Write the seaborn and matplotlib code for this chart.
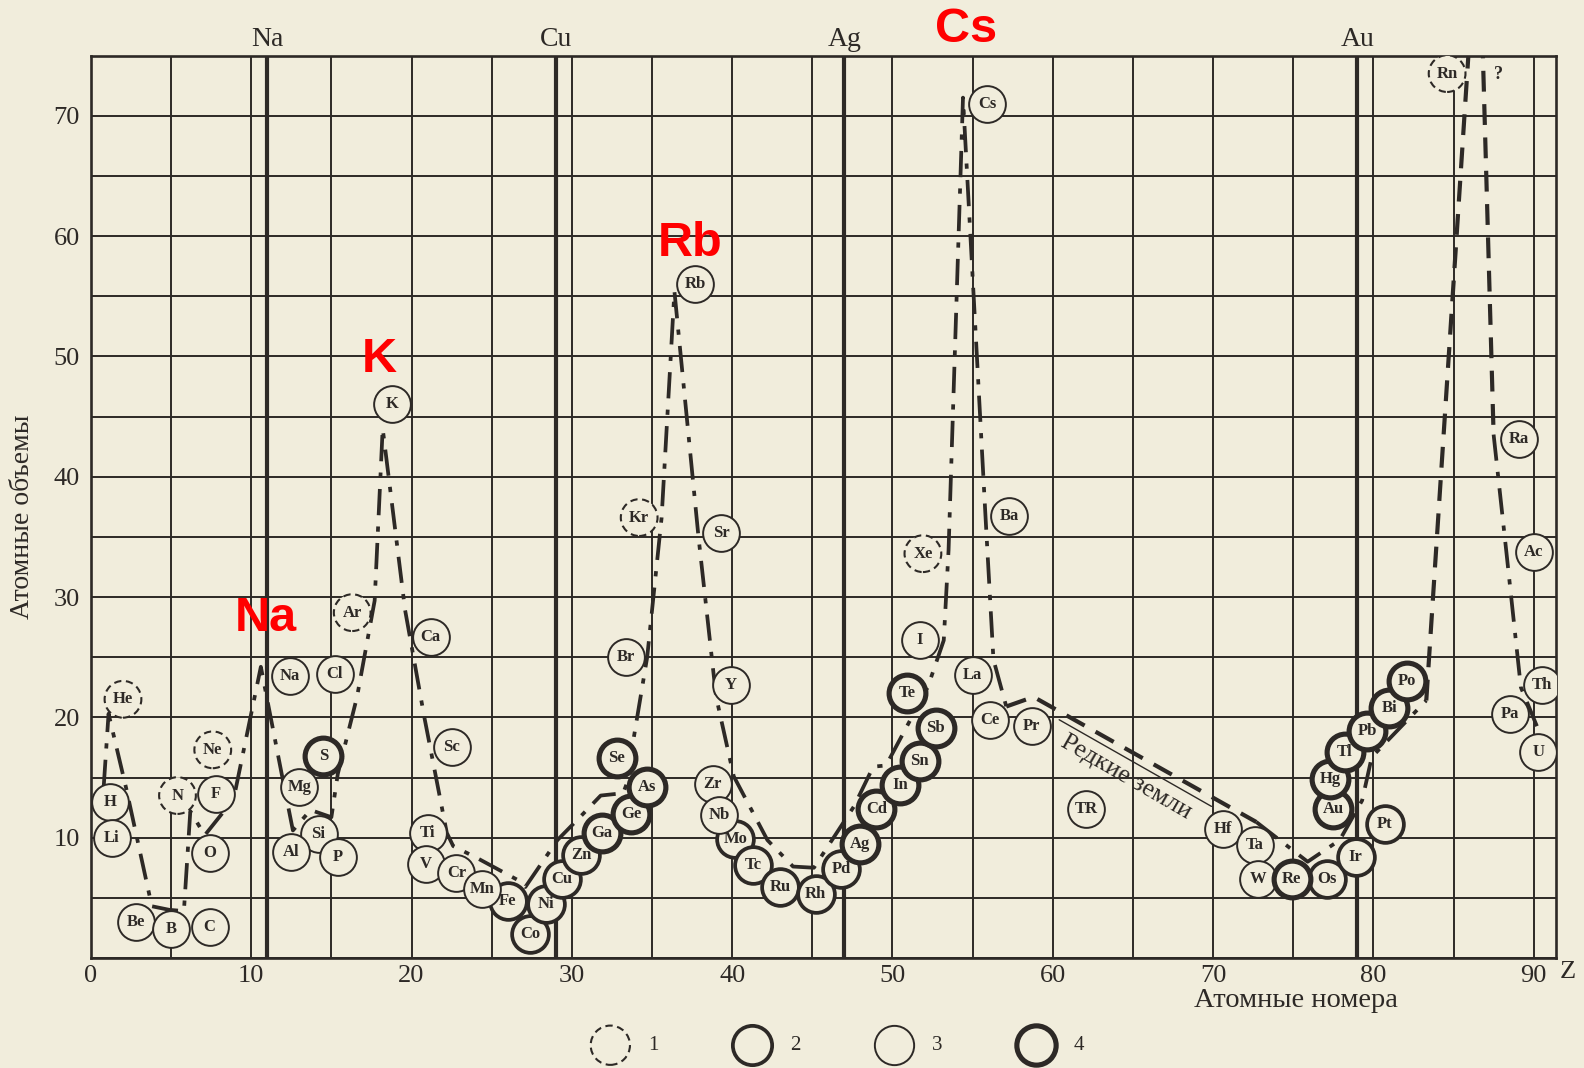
import numpy as np
import pandas as pd
import matplotlib
matplotlib.use("Agg")
import matplotlib.pyplot as plt
from matplotlib.ticker import MultipleLocator
import seaborn as sns

# ---------------- data ----------------
elements = ["He", "H", "Li", "Be", "B", "C", "N", "Ne", "F", "O",
            "Na", "Cl", "Ar", "S", "Mg", "Si", "Al", "P",
            "K", "Ca", "Sc", "Ti", "V", "Cr", "Mn", "Fe", "Co", "Ni", "Cu", "Zn",
            "Ga", "Ge", "As", "Se", "Br", "Kr",
            "Rb", "Sr", "Y", "Zr", "Nb", "Mo", "Tc", "Ru", "Rh", "Pd", "Ag", "Cd",
            "In", "Sn", "Sb", "Te", "I", "Xe",
            "Cs", "Ba", "La", "Ce", "Pr", "TR", "Hf", "Ta", "W", "Re", "Os", "Ir",
            "Pt", "Au", "Hg", "Tl", "Pb", "Bi", "Po", "Rn",
            "Ra", "Ac", "Th", "Pa", "U"]
circle_z = [2.0, 1.2, 1.3, 2.8, 5.0, 7.4, 5.4, 7.6, 7.8, 7.4,
            12.4, 15.2, 16.3, 14.5, 13.0, 14.2, 12.5, 15.4,
            18.8, 21.2, 22.5, 21.0, 20.9, 22.8, 24.4, 26.0, 27.4, 28.4, 29.4, 30.6,
            31.9, 33.7, 34.7, 32.8, 33.4, 34.2,
            37.7, 39.3, 39.9, 38.8, 39.2, 40.2, 41.3, 43.0, 45.2, 46.8, 48.0, 49.0,
            50.5, 51.7, 52.7, 50.9, 51.7, 51.9,
            55.9, 57.3, 55.0, 56.1, 58.7, 62.1, 70.6, 72.6, 72.8, 74.9, 77.1, 78.9,
            80.7, 77.5, 77.3, 78.2, 79.6, 81.0, 82.1, 84.6,
            89.1, 90.0, 90.5, 88.5, 90.3]
circle_v = [21.5, 13.0, 10.0, 3.0, 2.4, 2.6, 13.5, 17.3, 13.6, 8.7,
            23.4, 23.6, 28.7, 16.8, 14.2, 10.3, 8.8, 8.4,
            46.0, 26.7, 17.5, 10.4, 7.8, 7.1, 5.7, 4.7, 2.0, 4.5, 6.6, 8.6,
            10.4, 12.0, 14.2, 16.6, 25.0, 36.6,
            56.0, 35.3, 22.7, 14.5, 11.9, 9.9, 7.7, 5.9, 5.3, 7.4, 9.5, 12.4,
            14.4, 16.4, 19.1, 22.0, 26.4, 33.6,
            71.0, 36.7, 23.5, 19.8, 19.3, 12.4, 10.7, 9.4, 6.6, 6.6, 6.6, 8.4,
            11.1, 12.4, 14.9, 17.1, 18.9, 20.8, 23.0, 73.5,
            43.1, 33.7, 22.7, 20.3, 17.1]
# circle kind, as in the legend: 1 dashed, 2 medium, 3 thin, 4 thick
circle_kind = [1, 3, 3, 3, 3, 3, 1, 1, 3, 3,
               3, 3, 1, 4, 3, 3, 3, 3,
               3, 3, 3, 3, 3, 3, 3, 2, 2, 2, 2, 2,
               4, 4, 4, 4, 3, 1,
               3, 3, 3, 3, 3, 2, 2, 2, 2, 2, 4, 4,
               4, 4, 4, 4, 3, 1,
               3, 3, 3, 3, 3, 3, 3, 3, 3, 4, 2, 2,
               2, 4, 4, 4, 4, 4, 4, 1,
               3, 3, 3, 3, 3]

# atomic-volume curve (dash-dot parts)
curve1_z = [0.8, 1.1, 2.2, 3.8, 4.9, 5.8, 6.2, 7.1, 8.9, 10.6, 11.9, 12.6, 13.7,
            15.0, 15.4, 16.6, 17.7, 18.2, 19.6, 20.8, 22.2, 22.6, 24.1, 26.6,
            27.1, 29.1, 30.5, 31.8, 33.2, 33.6, 33.8, 34.7, 35.6, 36.4, 37.9,
            39.0, 40.1, 42.2, 43.8, 45.1, 47.6, 48.8, 49.6, 51.2, 52.2, 53.2,
            53.5, 54.4, 55.8, 56.3, 57.1]
curve1_v = [14.3, 20.3, 14.1, 4.3, 4.0, 3.9, 12.2, 10.2, 13.2, 24.2, 15.3, 10.6, 12.3,
            11.7, 15.3, 21.7, 29.7, 44.0, 28.9, 20.0, 10.4, 9.3, 8.3, 6.5,
            5.9, 9.8, 11.7, 13.5, 13.7, 15.1, 17.8, 25.0, 36.6, 55.4, 35.0,
            21.7, 15.1, 9.8, 7.6, 7.5, 12.6, 15.9, 16.0, 20.0, 22.5, 26.4,
            33.9, 71.5, 36.8, 24.8, 20.9]
rare_z = [57.1, 58.8, 72.7]
rare_v = [20.9, 21.7, 11.3]
curve2_z = [72.7, 75.9, 77.9, 79.3, 79.9, 83.3]
curve2_v = [11.3, 8.0, 9.8, 13.1, 16.7, 21.4]
rn_up_z = [83.3, 86.0]
rn_up_v = [21.4, 76.5]
rn_down_z = [86.8, 87.5]
rn_down_v = [76.5, 43.5]
curve3_z = [87.5, 88.3, 89.2, 90.5]
curve3_v = [43.5, 33.7, 22.5, 18.3]
bracket_z = [60.4, 69.9]
bracket_v = [19.8, 12.6]

group_z = [11, 29, 47, 79]
group_labels = ["Na", "Cu", "Ag", "Au"]

red_labels = ["Na", "K", "Rb", "Cs"]
red_z = [10.9, 18.0, 37.4, 54.6]
red_v = [28.2, 49.7, 59.4, 77.2]

x_ticks = [0, 10, 20, 30, 40, 50, 60, 70, 80, 90]
y_ticks = [10, 20, 30, 40, 50, 60, 70]
legend_labels = ["1", "2", "3", "4"]

# ---------------- styling ----------------
PAPER = "#f1eddc"
INK = "#2d2926"
SERIF = ["Liberation Serif", "DejaVu Serif"]

sns.set_theme(style="white")
plt.rcParams["font.family"] = SERIF

fig = plt.figure(figsize=(15.84, 10.68), dpi=100, facecolor=PAPER)
ax = fig.add_axes([0.0574, 0.103, 0.925, 0.845])
ax.set_facecolor(PAPER)
ax.set_xlim(0, 91.4)
ax.set_ylim(0, 75)

ax.xaxis.set_major_locator(MultipleLocator(10))
ax.xaxis.set_minor_locator(MultipleLocator(5))
ax.set_xticks(x_ticks)
ax.set_xticklabels([str(t) for t in x_ticks], fontsize=19, color=INK)
ax.set_yticks(y_ticks)
ax.set_yticklabels([str(t) for t in y_ticks], fontsize=19, color=INK)
ax.yaxis.set_minor_locator(MultipleLocator(5))
ax.tick_params(which="both", length=0)
ax.tick_params(axis="x", pad=5)
ax.tick_params(axis="y", pad=8)
ax.grid(True, which="both", color=INK, lw=1.4, zorder=0.5)
ax.set_axisbelow(True)
for sp in ax.spines.values():
    sp.set_color(INK)
    sp.set_linewidth(1.9)
    sp.set_visible(True)

# group (period boundary) lines
for gz, gl in zip(group_z, group_labels):
    ax.axvline(gz, color=INK, lw=3.0, zorder=1)
    ax.text(gz, 76.3, gl, ha="center", va="center", fontsize=20, color=INK,
            clip_on=False)

dashdot = (0, (7, 3.0, 1.4, 3.0))
dashed = (0, (5, 3))
lkw = dict(sort=False, estimator=None, color=INK, legend=False, ax=ax)
sns.lineplot(x=curve1_z, y=curve1_v, lw=2.7, linestyle=dashdot, zorder=2, **lkw)
sns.lineplot(x=curve2_z, y=curve2_v, lw=2.7, linestyle=dashdot, zorder=2, **lkw)
sns.lineplot(x=curve3_z, y=curve3_v, lw=2.7, linestyle=dashdot, zorder=2, **lkw)
sns.lineplot(x=rare_z, y=rare_v, lw=3.0, linestyle=dashed, zorder=2, **lkw)
sns.lineplot(x=rn_up_z, y=rn_up_v, lw=3.0, linestyle=dashed, zorder=2, **lkw)
sns.lineplot(x=rn_down_z, y=rn_down_v, lw=3.0, linestyle=dashed, zorder=2, **lkw)
sns.lineplot(x=bracket_z, y=bracket_v, lw=1.0, linestyle="-", zorder=2, **lkw)

ax.text(64.6, 15.0, "Редкие земли", rotation=-30, rotation_mode="anchor",
        ha="center", va="center", fontsize=18.5, color=INK, zorder=4)

kind_style = {
    1: dict(linewidth=1.5, linestyle=(0, (3.5, 2.2))),
    2: dict(linewidth=2.7, linestyle="-"),
    3: dict(linewidth=1.4, linestyle="-"),
    4: dict(linewidth=3.7, linestyle="-"),
}
cdf = pd.DataFrame({"el": elements, "z": circle_z, "v": circle_v, "kind": circle_kind})
for k, sub in cdf.groupby("kind"):
    sns.scatterplot(data=sub, x="z", y="v", s=700, color=PAPER, edgecolor=INK,
                    zorder=3, legend=False, ax=ax, **kind_style[k])
for el, z, v in zip(elements, circle_z, circle_v):
    ax.text(z, v, el, ha="center", va="center", fontsize=12, fontweight="bold",
            color=INK, zorder=5)

ax.text(87.8, 73.4, "?", ha="center", va="center", fontsize=13, fontweight="bold",
        color=INK, zorder=5)

# red annotations
for lab, z, v in zip(red_labels, red_z, red_v):
    ax.text(z, v, lab, ha="center", va="center", fontsize=35, fontweight="bold",
            color="#ff0000", family=["Liberation Sans", "DejaVu Sans"],
            zorder=6, clip_on=False)

# axis titles
ax.text(92.1, -1.15, "Z", ha="center", va="center", fontsize=19, color=INK,
        clip_on=False)
fig.text(0.818, 0.063, "Атомные номера", ha="center", va="center",
         fontsize=20.5, color=INK)
fig.text(0.014, 0.516, "Атомные объемы", ha="center", va="center",
         fontsize=20, color=INK, rotation=90)
ax.set_xlabel("")
ax.set_ylabel("")

# legend of circle kinds
leg_kinds = [1, 2, 3, 4]
for i, (lk, ll) in enumerate(zip(leg_kinds, legend_labels)):
    lx = 32.4 + 8.85 * i
    sns.scatterplot(x=[lx], y=[-7.25], s=800, color=PAPER, edgecolor=INK,
                    legend=False, ax=ax, clip_on=False, zorder=3, **kind_style[lk])
    ax.text(lx + 2.7, -7.25, ll, ha="center", va="center", fontsize=15,
            color=INK, clip_on=False)

fig.savefig("out.png", dpi=100, facecolor=PAPER)
